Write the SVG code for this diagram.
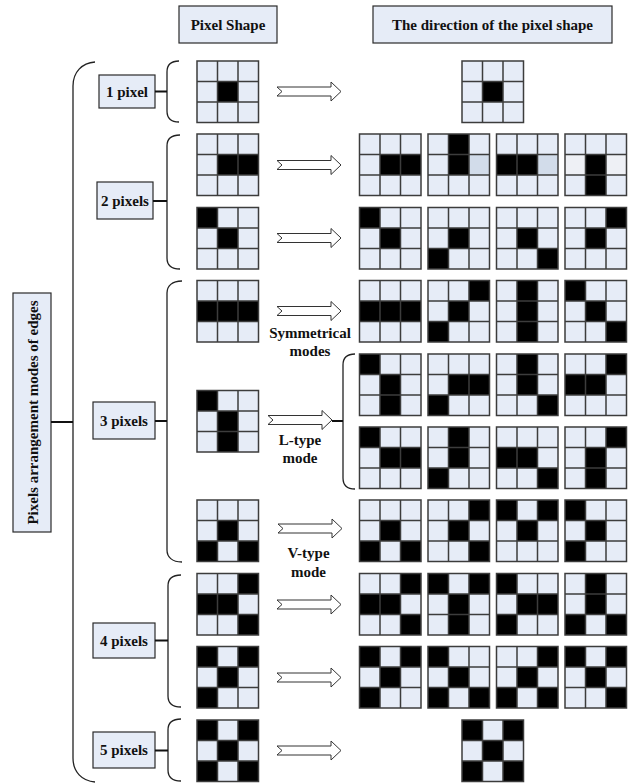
<svg xmlns="http://www.w3.org/2000/svg" xmlns:xlink="http://www.w3.org/1999/xlink" width="635" height="783" viewBox="0 0 635 783">
<style>
.bg{width:61.5px;height:61.5px;fill:#E6ECF7}
.k{width:20.5px;height:20.5px;fill:#000}
.dk{width:20.5px;height:20.5px;fill:#D2DCEA}
.lt{width:20.5px;height:20.5px;fill:#EEF0F5}
.gl{fill:none;stroke:#3c3c3c;stroke-width:1.5}
.box{fill:#E6ECF7;stroke:#2a2a2a;stroke-width:1.2}
.t{font-family:"Liberation Serif","Times New Roman",serif;font-weight:bold;font-size:15px;fill:#111;text-anchor:middle}
.br{fill:none;stroke:#222;stroke-width:1.3}
.ln{fill:none;stroke:#111;stroke-width:1.8}
.ar{fill:#fff;stroke:#333;stroke-width:1}
</style>
<defs>
<g id="gl"><rect class="gl" x="0" y="0" width="61.5" height="61.5"/><path class="gl" d="M20.5,0V61.5M41,0V61.5M0,20.5H61.5M0,41H61.5"/></g>
</defs>

<!-- header boxes -->
<g id="hdr-pixel-shape"><rect class="box" x="179" y="6" width="98" height="37"/><text class="t" x="228" y="29.5">Pixel Shape</text></g>
<g id="hdr-direction"><rect class="box" x="373" y="6" width="239" height="37"/><text class="t" x="492.5" y="29.5">The direction of the pixel shape</text></g>

<!-- category boxes -->
<g id="main-box"><rect class="box" x="13" y="293" width="38" height="239"/><text class="t" transform="translate(37.5,412.5) rotate(-90)">Pixels arrangement modes of edges</text></g>
<g id="box-1px"><rect class="box" x="99" y="75" width="56" height="33"/><text class="t" x="127" y="96.5">1 pixel</text></g>
<g id="box-2px"><rect class="box" x="97" y="182" width="56" height="37"/><text class="t" x="125" y="205.5">2 pixels</text></g>
<g id="box-3px"><rect class="box" x="93" y="402" width="62" height="37"/><text class="t" x="124" y="425.5">3 pixels</text></g>
<g id="box-4px"><rect class="box" x="93" y="623" width="62" height="35"/><text class="t" x="124" y="645.5">4 pixels</text></g>
<g id="box-5px"><rect class="box" x="93" y="732" width="62" height="36"/><text class="t" x="124" y="755">5 pixels</text></g>

<!-- mode labels -->
<g id="lbl-sym"><text class="t" x="310" y="338">Symmetrical</text><text class="t" x="310" y="356">modes</text></g>
<g id="lbl-l"><text class="t" x="300" y="445">L-type</text><text class="t" x="300" y="463">mode</text></g>
<g id="lbl-v"><text class="t" x="308.5" y="558">V-type</text><text class="t" x="308.5" y="577">mode</text></g>

<!-- connectors -->
<g id="connectors">
<path class="br" d="M95,62 C82,63 73,72 73,86 L73,758 C73,772 82,781 95,782"/>
<path class="br" d="M179,61 C171,61 167,65 167,72 L167,111 C167,118 171,122 179,122"/>
<path class="br" d="M180,135 C171,135 167,139 167,146 L167,258 C167,265 171,269 180,269"/>
<path class="br" d="M182,281 C172,281 167,286 167,293 L167,550 C167,557 172,562 182,562"/>
<path class="br" d="M181,575 C172,575 168,579 168,586 L168,696 C168,703 172,707 181,707"/>
<path class="br" d="M181,719 C172,719 168,723 168,730 L168,770 C168,777 172,781 181,781"/>
<path class="br" d="M355,354 C347,354 343,358 343,365 L343,478 C343,485 347,489 355,489"/>
<path class="ln" d="M51,422H73M155,91.5H167M153,201H167M155,421H167M155,640.5H168M155,750.5H168M332,421H343"/>
<path class="ar" d="M277,87H331V82L341,91.5L331,101V96H277L282,91.5Z"/>
<path class="ar" d="M277,160.5H331V155.5L341,165L331,174.5V169.5H277L282,165Z"/>
<path class="ar" d="M277,233.5H331V228.5L341,238L331,247.5V242.5H277L282,238Z"/>
<path class="ar" d="M277,306.5H331V301.5L341,311L331,320.5V315.5H277L282,311Z"/>
<path class="ar" d="M268,415.5H322V410.5L332,420L322,429.5V424.5H268L273,420Z"/>
<path class="ar" d="M278,524H332V519L342,528.5L332,538V533H278L283,528.5Z"/>
<path class="ar" d="M277,600H331V595L341,604.5L331,614V609H277L282,604.5Z"/>
<path class="ar" d="M277,673H331V668L341,677.5L331,687V682H277L282,677.5Z"/>
<path class="ar" d="M277,746H331V741L341,750.5L331,760V755H277L282,750.5Z"/>
</g>

<!-- Row 1: 1 pixel -->
<g id="r1-src" transform="translate(197,61)"><rect class="bg"/><rect class="k" x="20.5" y="20.5"/><use href="#gl"/></g>
<g id="r1-d1" transform="translate(462,61)"><rect class="bg"/><rect class="k" x="20.5" y="20.5"/><use href="#gl"/></g>

<!-- Row 2 -->
<g id="r2-src" transform="translate(197,134)"><rect class="bg"/><rect class="k" x="20.5" y="20.5"/><rect class="k" x="41" y="20.5"/><use href="#gl"/></g>
<g id="r2-d1" transform="translate(359.5,134)"><rect class="bg"/><rect class="k" x="20.5" y="20.5"/><rect class="k" x="41" y="20.5"/><use href="#gl"/></g>
<g id="r2-d2" transform="translate(428,134)"><rect class="bg"/><rect class="k" x="20.5" y="0"/><rect class="k" x="20.5" y="20.5"/><rect class="dk" x="41" y="20.5"/><use href="#gl"/></g>
<g id="r2-d3" transform="translate(496.5,134)"><rect class="bg"/><rect class="k" x="0" y="20.5"/><rect class="k" x="20.5" y="20.5"/><rect class="dk" x="41" y="20.5"/><use href="#gl"/></g>
<g id="r2-d4" transform="translate(565,134)"><rect class="bg"/><rect class="k" x="20.5" y="20.5"/><rect class="k" x="20.5" y="41"/><rect class="lt" x="0" y="20.5"/><rect class="lt" x="41" y="20.5"/><use href="#gl"/></g>

<!-- Row 3 -->
<g id="r3-src" transform="translate(197,207.5)"><rect class="bg"/><rect class="k" x="0" y="0"/><rect class="k" x="20.5" y="20.5"/><use href="#gl"/></g>
<g id="r3-d1" transform="translate(359.5,207.5)"><rect class="bg"/><rect class="k" x="0" y="0"/><rect class="k" x="20.5" y="20.5"/><use href="#gl"/></g>
<g id="r3-d2" transform="translate(428,207.5)"><rect class="bg"/><rect class="k" x="20.5" y="20.5"/><rect class="k" x="0" y="41"/><use href="#gl"/></g>
<g id="r3-d3" transform="translate(496.5,207.5)"><rect class="bg"/><rect class="k" x="20.5" y="20.5"/><rect class="k" x="41" y="41"/><use href="#gl"/></g>
<g id="r3-d4" transform="translate(565,207.5)"><rect class="bg"/><rect class="k" x="41" y="0"/><rect class="k" x="20.5" y="20.5"/><use href="#gl"/></g>

<!-- Row 4: symmetrical -->
<g id="r4-src" transform="translate(197,280.5)"><rect class="bg"/><rect class="k" x="0" y="20.5"/><rect class="k" x="20.5" y="20.5"/><rect class="k" x="41" y="20.5"/><use href="#gl"/></g>
<g id="r4-d1" transform="translate(359.5,280.5)"><rect class="bg"/><rect class="k" x="0" y="20.5"/><rect class="k" x="20.5" y="20.5"/><rect class="k" x="41" y="20.5"/><use href="#gl"/></g>
<g id="r4-d2" transform="translate(428,280.5)"><rect class="bg"/><rect class="k" x="41" y="0"/><rect class="k" x="20.5" y="20.5"/><rect class="k" x="0" y="41"/><use href="#gl"/></g>
<g id="r4-d3" transform="translate(496.5,280.5)"><rect class="bg"/><rect class="k" x="20.5" y="0"/><rect class="k" x="20.5" y="20.5"/><rect class="k" x="20.5" y="41"/><use href="#gl"/></g>
<g id="r4-d4" transform="translate(565,280.5)"><rect class="bg"/><rect class="k" x="0" y="0"/><rect class="k" x="20.5" y="20.5"/><rect class="k" x="41" y="41"/><use href="#gl"/></g>

<!-- L-type -->
<g id="l-src" transform="translate(197,390.5)"><rect class="bg"/><rect class="k" x="0" y="0"/><rect class="k" x="20.5" y="20.5"/><rect class="k" x="20.5" y="41"/><use href="#gl"/></g>
<g id="r5-d1" transform="translate(359.5,354)"><rect class="bg"/><rect class="k" x="0" y="0"/><rect class="k" x="20.5" y="20.5"/><rect class="k" x="20.5" y="41"/><use href="#gl"/></g>
<g id="r5-d2" transform="translate(428,354)"><rect class="bg"/><rect class="k" x="20.5" y="20.5"/><rect class="k" x="41" y="20.5"/><rect class="k" x="0" y="41"/><use href="#gl"/></g>
<g id="r5-d3" transform="translate(496.5,354)"><rect class="bg"/><rect class="k" x="20.5" y="0"/><rect class="k" x="20.5" y="20.5"/><rect class="k" x="41" y="41"/><use href="#gl"/></g>
<g id="r5-d4" transform="translate(565,354)"><rect class="bg"/><rect class="k" x="41" y="0"/><rect class="k" x="0" y="20.5"/><rect class="k" x="20.5" y="20.5"/><use href="#gl"/></g>
<g id="r6-d1" transform="translate(359.5,427)"><rect class="bg"/><rect class="k" x="0" y="0"/><rect class="k" x="20.5" y="20.5"/><rect class="k" x="41" y="20.5"/><use href="#gl"/></g>
<g id="r6-d2" transform="translate(428,427)"><rect class="bg"/><rect class="k" x="20.5" y="0"/><rect class="k" x="20.5" y="20.5"/><rect class="k" x="0" y="41"/><use href="#gl"/></g>
<g id="r6-d3" transform="translate(496.5,427)"><rect class="bg"/><rect class="k" x="0" y="20.5"/><rect class="k" x="20.5" y="20.5"/><rect class="k" x="41" y="41"/><use href="#gl"/></g>
<g id="r6-d4" transform="translate(565,427)"><rect class="bg"/><rect class="k" x="41" y="0"/><rect class="k" x="20.5" y="20.5"/><rect class="k" x="20.5" y="41"/><use href="#gl"/></g>

<!-- V-type -->
<g id="v-src" transform="translate(197,500)"><rect class="bg"/><rect class="k" x="20.5" y="20.5"/><rect class="k" x="0" y="41"/><rect class="k" x="41" y="41"/><use href="#gl"/></g>
<g id="r7-d1" transform="translate(359.5,500)"><rect class="bg"/><rect class="k" x="20.5" y="20.5"/><rect class="k" x="0" y="41"/><rect class="k" x="41" y="41"/><use href="#gl"/></g>
<g id="r7-d2" transform="translate(428,500)"><rect class="bg"/><rect class="k" x="41" y="0"/><rect class="k" x="20.5" y="20.5"/><rect class="k" x="41" y="41"/><use href="#gl"/></g>
<g id="r7-d3" transform="translate(496.5,500)"><rect class="bg"/><rect class="k" x="0" y="0"/><rect class="k" x="41" y="0"/><rect class="k" x="20.5" y="20.5"/><use href="#gl"/></g>
<g id="r7-d4" transform="translate(565,500)"><rect class="bg"/><rect class="k" x="0" y="0"/><rect class="k" x="20.5" y="20.5"/><rect class="k" x="0" y="41"/><use href="#gl"/></g>

<!-- Row 8: 4 pixels a -->
<g id="r8-src" transform="translate(197,573.5)"><rect class="bg"/><rect class="k" x="41" y="0"/><rect class="k" x="0" y="20.5"/><rect class="k" x="20.5" y="20.5"/><rect class="k" x="41" y="41"/><use href="#gl"/></g>
<g id="r8-d1" transform="translate(359.5,573.5)"><rect class="bg"/><rect class="k" x="41" y="0"/><rect class="k" x="0" y="20.5"/><rect class="k" x="20.5" y="20.5"/><rect class="k" x="41" y="41"/><use href="#gl"/></g>
<g id="r8-d2" transform="translate(428,573.5)"><rect class="bg"/><rect class="k" x="0" y="0"/><rect class="k" x="41" y="0"/><rect class="k" x="20.5" y="20.5"/><rect class="k" x="20.5" y="41"/><use href="#gl"/></g>
<g id="r8-d3" transform="translate(496.5,573.5)"><rect class="bg"/><rect class="k" x="0" y="0"/><rect class="k" x="20.5" y="20.5"/><rect class="k" x="41" y="20.5"/><rect class="k" x="0" y="41"/><use href="#gl"/></g>
<g id="r8-d4" transform="translate(565,573.5)"><rect class="bg"/><rect class="k" x="20.5" y="0"/><rect class="k" x="20.5" y="20.5"/><rect class="k" x="0" y="41"/><rect class="k" x="41" y="41"/><use href="#gl"/></g>

<!-- Row 9: 4 pixels b -->
<g id="r9-src" transform="translate(197,646.5)"><rect class="bg"/><rect class="k" x="0" y="0"/><rect class="k" x="41" y="0"/><rect class="k" x="20.5" y="20.5"/><rect class="k" x="0" y="41"/><use href="#gl"/></g>
<g id="r9-d1" transform="translate(359.5,646.5)"><rect class="bg"/><rect class="k" x="0" y="0"/><rect class="k" x="41" y="0"/><rect class="k" x="20.5" y="20.5"/><rect class="k" x="0" y="41"/><use href="#gl"/></g>
<g id="r9-d2" transform="translate(428,646.5)"><rect class="bg"/><rect class="k" x="0" y="0"/><rect class="k" x="20.5" y="20.5"/><rect class="k" x="0" y="41"/><rect class="k" x="41" y="41"/><use href="#gl"/></g>
<g id="r9-d3" transform="translate(496.5,646.5)"><rect class="bg"/><rect class="k" x="41" y="0"/><rect class="k" x="20.5" y="20.5"/><rect class="k" x="0" y="41"/><rect class="k" x="41" y="41"/><use href="#gl"/></g>
<g id="r9-d4" transform="translate(565,646.5)"><rect class="bg"/><rect class="k" x="0" y="0"/><rect class="k" x="41" y="0"/><rect class="k" x="20.5" y="20.5"/><rect class="k" x="41" y="41"/><use href="#gl"/></g>

<!-- Row 10: 5 pixels -->
<g id="r10-src" transform="translate(197,720)"><rect class="bg"/><rect class="k" x="0" y="0"/><rect class="k" x="41" y="0"/><rect class="k" x="20.5" y="20.5"/><rect class="k" x="0" y="41"/><rect class="k" x="41" y="41"/><use href="#gl"/></g>
<g id="r10-d1" transform="translate(462,720)"><rect class="bg"/><rect class="k" x="0" y="0"/><rect class="k" x="41" y="0"/><rect class="k" x="20.5" y="20.5"/><rect class="k" x="0" y="41"/><rect class="k" x="41" y="41"/><use href="#gl"/></g>
</svg>
